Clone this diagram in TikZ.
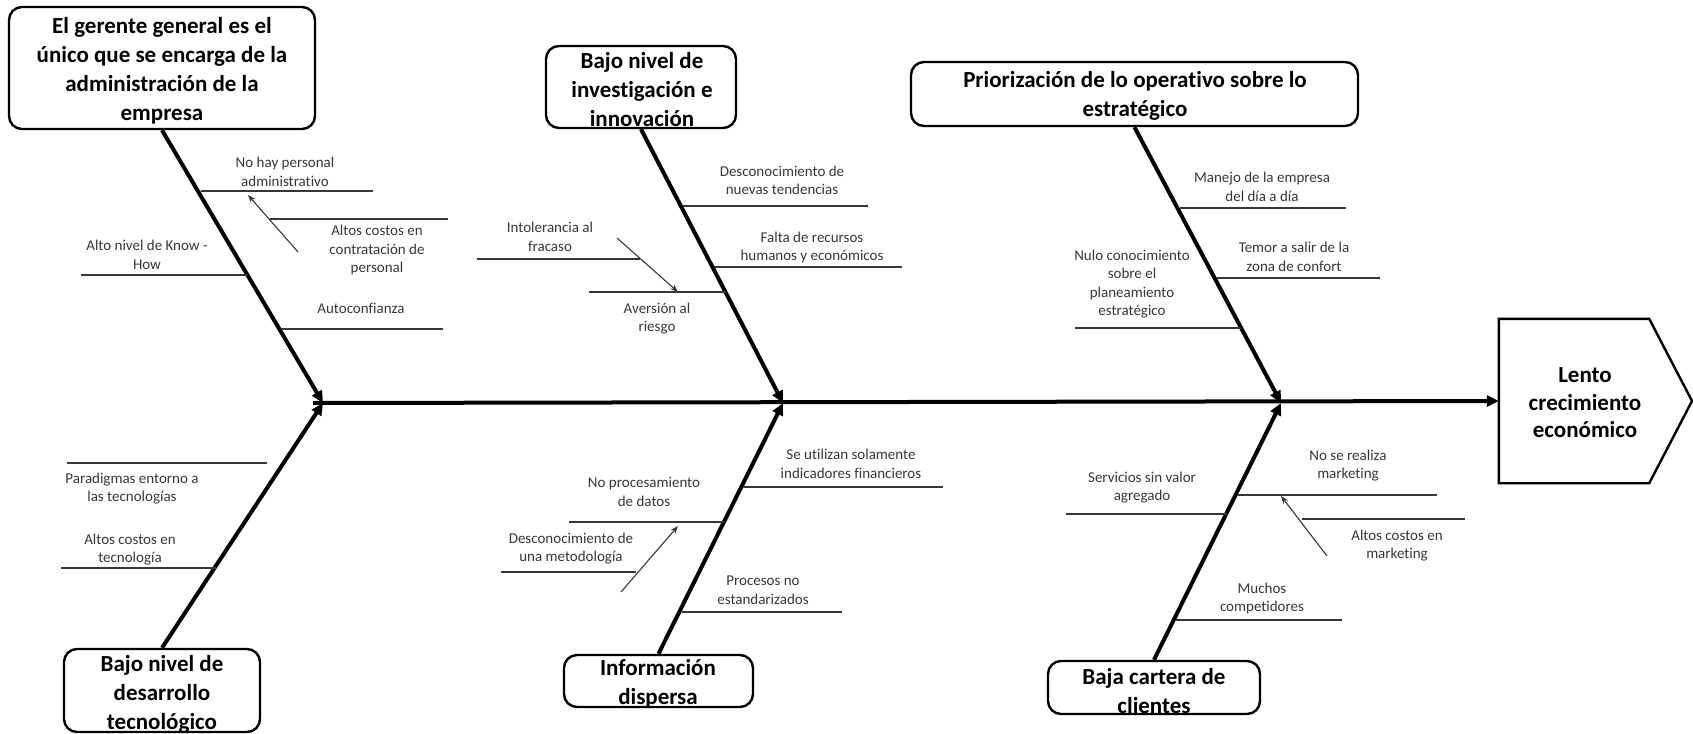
\documentclass[tikz,border=0pt]{standalone}
\usepackage{fontspec}
\setmainfont{Carlito}[Ligatures=NoCommon]
\usetikzlibrary{arrows.meta}
\definecolor{ink}{RGB}{55,55,55}
\begin{document}
\begin{tikzpicture}[x=1pt,y=-1pt,
  frame/.style={draw, line width=2.4pt, rounded corners=13pt, inner sep=0pt},
  title/.style={align=center, inner sep=0pt, font=\bfseries\fontsize{23}{29}\selectfont},
  bone/.style={line width=4pt, -{Triangle[length=12pt,width=11pt]}},
  rib/.style={draw=ink, line width=1.4pt},
  lbl/.style={align=center, inner sep=0pt, text=ink, font=\fontsize{15}{18.5}\selectfont},
  link/.style={draw=ink, line width=1.1pt, -{Stealth[length=8pt,width=6pt]}},
]
\useasboundingbox (0,0) rectangle (1693,733);

% effect head
\node[inner sep=0pt, minimum width=150pt, minimum height=164pt] (eff) at (1574,401) {};
\coordinate (tip) at (1692,401);
\draw[line width=2.4pt, line join=miter] (eff.north west) -- (eff.north east) -- (tip) -- (eff.south east) -- (eff.south west) -- cycle;
\node[title, font=\bfseries\fontsize{23}{27.5}\selectfont] (efft) at (1585,403) {Lento\\crecimiento\\económico};

% spine
\coordinate (spineL) at (313,403);
\coordinate (j1) at (323,403);
\coordinate (j2) at (783,403);
\coordinate (j3) at (1281,403);
\draw[bone] (spineL) -- (eff.west);

% main causes (frames and captions)
\node[frame, minimum width=306pt, minimum height=122pt] (b1) at (162,68) {};
\node[title] (t1) at (162,71) {El gerente general es el\\único que se encarga de la\\administración de la\\empresa};
\node[frame, minimum width=190pt, minimum height=82pt] (b2) at (641,87) {};
\node[title] (t2) at (642,90) {Bajo nivel de\\investigación e\\innovación};
\node[frame, minimum width=447pt, minimum height=64pt] (b3) at (1134.5,94) {};
\node[title] (t3) at (1135,96) {Priorización de lo operativo sobre lo\\estratégico};
\node[frame, minimum width=196pt, minimum height=83pt] (b4) at (162,690.5) {};
\node[title] (t4) at (162,694) {Bajo nivel de\\desarrollo\\tecnológico};
\node[frame, minimum width=189pt, minimum height=52pt] (b5) at (658.5,681) {};
\node[title] (t5) at (658,684) {Información\\dispersa};
\node[frame, minimum width=212pt, minimum height=53pt] (b6) at (1154,687.5) {};
\node[title] (t6) at (1154,691) {Baja cartera de\\clientes};

% bones
\draw[bone] (b1.south) -- (j1);
\draw[bone] (b2.south) -- (j2);
\draw[bone] (b3.south) -- (j3);
\draw[bone] (b4.north) -- (j1);
\draw[bone] (b5.north) -- (j2);
\draw[bone] (b6.north) -- (j3);

% --- causes of b1
\coordinate (r11a) at (201,191); \coordinate (r11b) at (373,191);
\coordinate (r12a) at (270,219); \coordinate (r12b) at (448,219);
\coordinate (r13a) at (81,275);  \coordinate (r13b) at (247,275);
\coordinate (r14a) at (281,329); \coordinate (r14b) at (443,329);
\draw[rib] (r11a) -- (r11b);
\draw[rib] (r12a) -- (r12b);
\draw[rib] (r13a) -- (r13b);
\draw[rib] (r14a) -- (r14b);
\node[lbl] (l11) at (285,172) {No hay personal\\administrativo};
\node[lbl] (l12) at (377,250) {Altos costos en\\contratación de\\personal};
\node[lbl] (l13) at (147,255) {Alto nivel de Know -\\How};
\node[lbl] (l14) at (361,308) {Autoconfianza};
\coordinate (a1s) at (298,252); \coordinate (a1e) at (248,195);
\draw[link] (a1s) -- (a1e);

% --- causes of b2
\coordinate (r21a) at (683,206); \coordinate (r21b) at (868,206);
\coordinate (r22a) at (714,267); \coordinate (r22b) at (902,267);
\coordinate (r23a) at (477,259); \coordinate (r23b) at (640,259);
\coordinate (r24a) at (589,292); \coordinate (r24b) at (726,292);
\draw[rib] (r21a) -- (r21b);
\draw[rib] (r22a) -- (r22b);
\draw[rib] (r23a) -- (r23b);
\draw[rib] (r24a) -- (r24b);
\node[lbl] (l21) at (782,180.5) {Desconocimiento de\\nuevas tendencias};
\node[lbl] (l22) at (812,247.5) {Falta de recursos\\humanos y económicos};
\node[lbl] (l23) at (550,237) {Intolerancia al\\fracaso};
\node[lbl] (l24) at (657,318.5) {Aversión al\\riesgo};
\coordinate (a2s) at (617,238); \coordinate (a2e) at (678,292);
\draw[link] (a2s) -- (a2e);

% --- causes of b3
\coordinate (r31a) at (1180,208); \coordinate (r31b) at (1346,208);
\coordinate (r32a) at (1217,278); \coordinate (r32b) at (1380,278);
\coordinate (r33a) at (1075,328); \coordinate (r33b) at (1241,328);
\draw[rib] (r31a) -- (r31b);
\draw[rib] (r32a) -- (r32b);
\draw[rib] (r33a) -- (r33b);
\node[lbl] (l31) at (1262,187) {Manejo de la empresa\\del día a día};
\node[lbl] (l32) at (1294,257) {Temor a salir de la\\zona de confort};
\node[lbl] (l33) at (1132,284) {Nulo conocimiento\\sobre el\\planeamiento\\estratégico};

% --- causes of b4
\coordinate (r41a) at (67,463);  \coordinate (r41b) at (267,463);
\coordinate (r42a) at (61,568);  \coordinate (r42b) at (216,568);
\draw[rib] (r41a) -- (r41b);
\draw[rib] (r42a) -- (r42b);
\node[lbl] (l41) at (132,488.5) {Paradigmas entorno a\\las tecnologías};
\node[lbl] (l42) at (130,549.5) {Altos costos en\\tecnología};

% --- causes of b5
\coordinate (r51a) at (743,487); \coordinate (r51b) at (943,487);
\coordinate (r52a) at (569,522); \coordinate (r52b) at (724,522);
\coordinate (r53a) at (501,572); \coordinate (r53b) at (636,572);
\coordinate (r54a) at (682,612); \coordinate (r54b) at (842,612);
\draw[rib] (r51a) -- (r51b);
\draw[rib] (r52a) -- (r52b);
\draw[rib] (r53a) -- (r53b);
\draw[rib] (r54a) -- (r54b);
\node[lbl] (l51) at (851,464) {Se utilizan solamente\\indicadores financieros};
\node[lbl] (l52) at (644,492) {No procesamiento\\de datos};
\node[lbl] (l53) at (571,548.5) {Desconocimiento de\\una metodología};
\node[lbl] (l54) at (763,590) {Procesos no\\estandarizados};
\coordinate (a5s) at (621,592); \coordinate (a5e) at (678,526);
\draw[link] (a5s) -- (a5e);

% --- causes of b6
\coordinate (r61a) at (1237,495); \coordinate (r61b) at (1437,495);
\coordinate (r62a) at (1066,514); \coordinate (r62b) at (1227,514);
\coordinate (r63a) at (1302,519); \coordinate (r63b) at (1465,519);
\coordinate (r64a) at (1176,620); \coordinate (r64b) at (1342,620);
\draw[rib] (r61a) -- (r61b);
\draw[rib] (r62a) -- (r62b);
\draw[rib] (r63a) -- (r63b);
\draw[rib] (r64a) -- (r64b);
\node[lbl] (l61) at (1348,465.5) {No se realiza\\marketing};
\node[lbl] (l62) at (1142,487.5) {Servicios sin valor\\agregado};
\node[lbl] (l63) at (1397,545.5) {Altos costos en\\marketing};
\node[lbl] (l64) at (1262,598.5) {Muchos\\competidores};
\coordinate (a6s) at (1327,556); \coordinate (a6e) at (1281,496);
\draw[link] (a6s) -- (a6e);
\end{tikzpicture}
\end{document}
